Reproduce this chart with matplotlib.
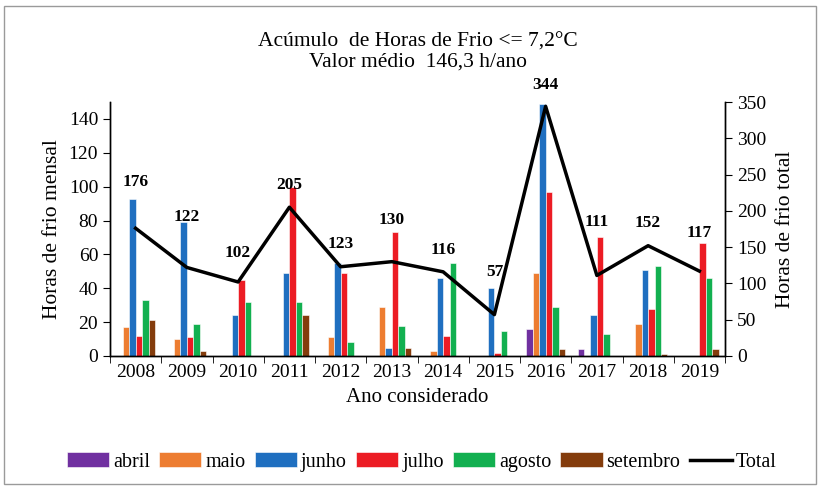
import numpy as np
import matplotlib
matplotlib.use("Agg")
import matplotlib.pyplot as plt
from matplotlib.patches import Rectangle

plt.rcParams['font.family'] = ['Liberation Serif', 'DejaVu Serif']

anos = ['2008', '2009', '2010', '2011', '2012', '2013',
        '2014', '2015', '2016', '2017', '2018', '2019']

abril = [0, 0, 0, 0, 0, 0, 0, 0, 16, 4, 0, 0]
maio = [17, 10, 0, 0, 11, 29, 3, 0, 49, 0, 19, 0]
junho = [93, 79, 24, 49, 55, 5, 46, 40, 149, 24, 51, 0]
julho = [12, 11, 45, 100, 49, 73, 12, 2, 97, 70, 28, 67]
agosto = [33, 19, 32, 32, 8, 18, 55, 15, 29, 13, 53, 46]
setembro = [21, 3, 0, 24, 0, 5, 0, 0, 4, 0, 1, 4]

total = [176, 122, 102, 205, 123, 130, 116, 57, 344, 111, 152, 117]
# height (right axis units) where each total label sits in the original
label_y = [240, 191, 142, 236, 154, 187, 146, 116, 373, 185, 183, 170]

meses = ['abril', 'maio', 'junho', 'julho', 'agosto', 'setembro']
series = [abril, maio, junho, julho, agosto, setembro]
cores = ['#7030A0', '#ED7D31', '#1F6FC0', '#EC1C24', '#12B050', '#843C0C']

fig = plt.figure(figsize=(8.22, 4.88), dpi=100)
ax = fig.add_axes([110 / 822, 1 - 356 / 488, 615 / 822, 254 / 488])
ax2 = ax.twinx()

x = np.arange(len(anos))
w = 0.126
for i, (nome, vals, cor) in enumerate(zip(meses, series, cores)):
    ax.bar(x + (i - 2.5) * w, vals, width=w, color=cor, label=nome,
           edgecolor='white', linewidth=0.4, zorder=2)

ax2.plot(x, total, color='black', linewidth=2.5, label='Total', zorder=3)
for xi, t, ly in zip(x, total, label_y):
    ax2.text(xi, ly, str(t), ha='center', va='center', fontsize=12.5,
             fontweight='bold', clip_on=False)

ax.set_xlim(-0.5, len(anos) - 0.5)
ax.set_ylim(0, 150)
ax2.set_ylim(0, 350)
ax.set_yticks(range(0, 141, 20))
ax2.set_yticks(range(0, 351, 50))
ax.set_xticks(x)
ax.set_xticklabels(anos)
ax.set_xticks(np.arange(-0.5, len(anos), 1), minor=True)
ax.tick_params(axis='x', which='major', length=0, labelsize=14, pad=6)
ax.tick_params(axis='x', which='minor', length=5, direction='out')
ax.tick_params(axis='y', labelsize=14, length=5, direction='out')
ax2.tick_params(axis='y', labelsize=14, length=5, direction='out')

for a in (ax, ax2):
    a.spines['top'].set_visible(False)
    for s in a.spines.values():
        s.set_linewidth(1.0)

ax.set_ylabel('Horas de frio mensal', fontsize=15.5, labelpad=5)
ax2.set_ylabel('Horas de frio total', fontsize=15.5, labelpad=7)
ax.set_xlabel('Ano considerado', fontsize=15, labelpad=5)

fig.text(0.508, 1 - 42 / 488, 'Acúmulo  de Horas de Frio <= 7,2°C',
         ha='center', va='center', fontsize=15.5)
fig.text(0.508, 1 - 62 / 488, 'Valor médio  146,3 h/ano',
         ha='center', va='center', fontsize=15.5)

h1, l1 = ax.get_legend_handles_labels()
h2, l2 = ax2.get_legend_handles_labels()
fig.legend(h1 + h2, l1 + l2, loc='center', bbox_to_anchor=(0.513, 1 - 462 / 488),
           ncol=7, frameon=False, fontsize=14.5, handlelength=2.1,
           handleheight=0.75, handletextpad=0.2, columnspacing=0.45)

fig.patches.append(Rectangle((4 / 822, 4 / 488), 812 / 822, 478 / 488,
                             transform=fig.transFigure, fill=False,
                             edgecolor='#9a9a9a', linewidth=1.0))

fig.savefig('out.png', dpi=100)
